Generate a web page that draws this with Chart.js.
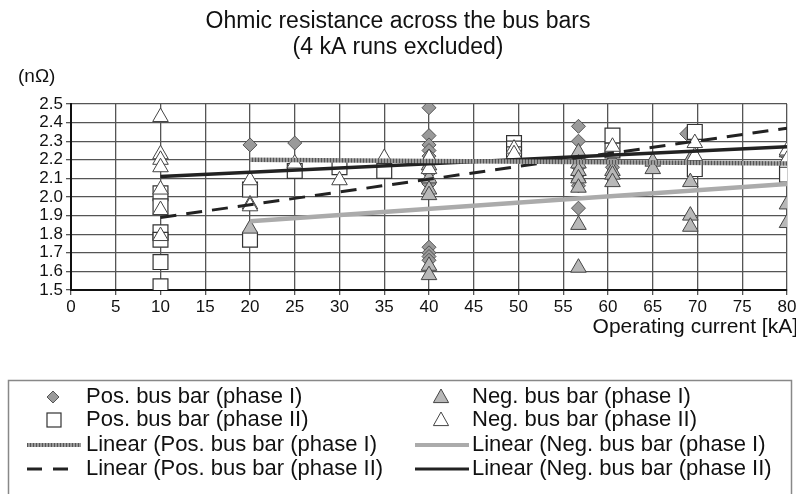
<!DOCTYPE html>
<html>
<head>
<meta charset="utf-8">
<script src="https://cdn.jsdelivr.net/npm/chart.js@4.4.1/dist/chart.umd.min.js"></script>
<style>
  html, body { margin: 0; padding: 0; background: #fff; }
  #wrap { width: 796px; height: 494px; overflow: hidden; position: relative; }
  canvas { display: block; }
</style>
</head>
<body>
<div id="wrap"><canvas id="busChart" width="830" height="494"></canvas></div>
<script>
    // Valeurs (x = courant kA, y = résistance nΩ)
    const posPhase1 = [
        [20, 2.28], [25, 2.29],
        [40, 2.48], [40, 2.33], [40, 2.28], [40, 2.25], [40, 2.22], [40, 2.20], [40, 2.13], [40, 2.07],
        [40, 1.73], [40, 1.70], [40, 1.68], [40, 1.66],
        [56.7, 2.38], [56.7, 2.30], [56.7, 2.21], [56.7, 2.16], [56.7, 2.12], [56.7, 2.09], [56.7, 2.06], [56.7, 1.94],
        [60.5, 2.19], [60.5, 2.16],
        [68.8, 2.34],
        [80, 2.22]
    ];
    const posPhase2 = [
        [10, 2.02], [10, 1.95], [10, 1.81], [10, 1.77], [10, 1.65], [10, 1.52],
        [20, 2.04], [20, 1.77],
        [25, 2.14], [30, 2.16], [35, 2.14],
        [49.5, 2.29], [49.5, 2.26], [49.5, 2.23],
        [60.5, 2.33], [60.5, 2.25],
        [69.7, 2.35], [69.7, 2.15],
        [80, 2.15], [80, 2.12]
    ];
    const negPhase1 = [
        [20, 1.96], [20, 1.83],
        [40, 2.17], [40, 2.10], [40, 2.04], [40, 2.01], [40, 1.63], [40, 1.58],
        [56.7, 2.24], [56.7, 2.18], [56.7, 2.14], [56.7, 2.10], [56.7, 2.05], [56.7, 1.85], [56.7, 1.62],
        [60.5, 2.14], [60.5, 2.12], [60.5, 2.08],
        [65, 2.19], [65, 2.15],
        [69.2, 2.20], [69.2, 2.08], [69.2, 1.90], [69.2, 1.84],
        [80, 2.24], [80, 1.96], [80, 1.86]
    ];
    const negPhase2 = [
        [10, 2.43], [10, 2.23], [10, 2.20], [10, 2.16], [10, 2.04], [10, 1.93], [10, 1.79],
        [20, 2.09], [20, 1.95],
        [25, 2.18], [30, 2.09], [35, 2.21],
        [40, 2.21], [40, 2.15],
        [49.5, 2.26], [49.5, 2.23],
        [60.5, 2.27],
        [69.7, 2.29], [69.7, 2.22],
        [80, 2.25], [80, 2.20]
    ];

    // Droites de tendance (extrémités)
    const trendXPhase1 = [20, 80];
    const trendXPhase2 = [10, 80];
    const posPhase1Trend = [2.20, 2.18];
    const posPhase2Trend = [1.89, 2.37];
    const negPhase1Trend = [1.87, 2.07];
    const negPhase2Trend = [2.11, 2.27];

    const xTicks = [0, 5, 10, 15, 20, 25, 30, 35, 40, 45, 50, 55, 60, 65, 70, 75, 80];
    const yTicks = [1.5, 1.6, 1.7, 1.8, 1.9, 2.0, 2.1, 2.2, 2.3, 2.4, 2.5];

    const legendLabels = [
        'Pos. bus bar (phase I)', 'Pos. bus bar (phase II)',
        'Linear (Pos. bus bar (phase I)', 'Linear (Pos. bus bar (phase II)',
        'Neg. bus bar (phase I)', 'Neg. bus bar (phase II)',
        'Linear (Neg. bus bar (phase I)', 'Linear (Neg. bus bar (phase II)'
    ];

    const FONT = '"Liberation Sans", Arial, sans-serif';

    function toPoints(pairs) {
        return pairs.map(p => ({ x: p[0], y: p[1] }));
    }
    function toLine(xs, ys) {
        return xs.map((x, i) => ({ x: x, y: ys[i] }));
    }

    // motif hachuré pour la tendance "Pos. phase I"
    function hatchPattern(ctx) {
        const c = document.createElement('canvas');
        c.width = 3; c.height = 3;
        const g = c.getContext('2d');
        g.fillStyle = '#9a9a9a';
        g.fillRect(0, 0, 3, 3);
        g.fillStyle = '#555';
        g.fillRect(0, 0, 1, 3);
        return ctx.createPattern(c, 'repeat');
    }

    const canvas = document.getElementById('busChart');
    const ctx = canvas.getContext('2d');
    const hatch = hatchPattern(ctx);

    // petits dessins pour la légende
    function drawDiamond(g, x, y, r) {
        g.beginPath();
        g.moveTo(x, y - r); g.lineTo(x + r, y); g.lineTo(x, y + r); g.lineTo(x - r, y);
        g.closePath();
        g.fillStyle = '#9a9a9a'; g.strokeStyle = '#555'; g.lineWidth = 1;
        g.fill(); g.stroke();
    }
    function drawSquare(g, x, y, s) {
        g.fillStyle = '#fff'; g.strokeStyle = '#333'; g.lineWidth = 1.2;
        g.fillRect(x - s, y - s, 2 * s, 2 * s);
        g.strokeRect(x - s, y - s, 2 * s, 2 * s);
    }
    function drawTriangle(g, x, y, r, fill) {
        g.beginPath();
        g.moveTo(x, y - r); g.lineTo(x + r * 0.95, y + r * 0.7); g.lineTo(x - r * 0.95, y + r * 0.7);
        g.closePath();
        g.fillStyle = fill; g.strokeStyle = '#444'; g.lineWidth = 1;
        g.fill(); g.stroke();
    }
    function drawSeg(g, x1, x2, y, color, width, dash) {
        g.save();
        g.beginPath();
        g.setLineDash(dash || []);
        g.moveTo(x1, y); g.lineTo(x2, y);
        g.strokeStyle = color; g.lineWidth = width;
        g.stroke();
        g.restore();
    }

    const textPlugin = {
        id: 'textPlugin',
        afterDraw(chart) {
            const g = chart.ctx;
            g.save();
            g.fillStyle = '#111';
            g.textBaseline = 'middle';
            // titre
            g.font = '23px ' + FONT;
            g.textAlign = 'center';
            g.fillText('Ohmic resistance across the bus bars', 398, 22);
            g.fillText('(4 kA runs excluded)', 398, 48);
            // unité axe y
            g.textAlign = 'left';
            g.font = '19px ' + FONT;
            g.fillText('(n\u03A9)', 18, 77);
            // titre axe x
            g.textAlign = 'right';
            g.font = '21px ' + FONT;
            g.fillText('Operating current [kA]', 798, 327);

            // cadre de la légende
            g.strokeStyle = '#888';
            g.lineWidth = 1.5;
            g.strokeRect(8.5, 380.5, 783, 130);

            g.font = '22px ' + FONT;
            g.textAlign = 'left';
            const rows = [397, 420, 445, 469];
            const leftText = 86, rightText = 472;
            for (let i = 0; i < 4; i++) {
                g.fillStyle = '#111';
                g.fillText(legendLabels[i], leftText, rows[i]);
                g.fillText(legendLabels[i + 4], rightText, rows[i]);
            }
            drawDiamond(g, 53, rows[0], 6);
            drawSquare(g, 54, rows[1], 7);
            drawSeg(g, 27, 81, rows[2], hatch, 4);
            drawSeg(g, 27, 78, rows[3], '#222', 3, [15, 11]);
            drawTriangle(g, 441, rows[0], 8, '#b8b8b8');
            drawTriangle(g, 441, rows[1], 8, '#fff');
            drawSeg(g, 415, 469, rows[2], '#ababab', 4);
            drawSeg(g, 415, 469, rows[3], '#222', 3);
            g.restore();
        }
    };

    const busChart = new Chart(ctx, {
        type: 'scatter',
        data: {
            datasets: [
                {
                    label: legendLabels[2],
                    data: toLine(trendXPhase1, posPhase1Trend),
                    showLine: true, borderColor: hatch, borderWidth: 4.5, pointRadius: 0
                },
                {
                    label: legendLabels[3],
                    data: toLine(trendXPhase2, posPhase2Trend),
                    showLine: true, borderColor: '#222', borderWidth: 3, borderDash: [16, 10], pointRadius: 0
                },
                {
                    label: legendLabels[6],
                    data: toLine(trendXPhase1, negPhase1Trend),
                    showLine: true, borderColor: '#ababab', borderWidth: 4.5, pointRadius: 0
                },
                {
                    label: legendLabels[7],
                    data: toLine(trendXPhase2, negPhase2Trend),
                    showLine: true, borderColor: '#222', borderWidth: 3.5, pointRadius: 0
                },
                {
                    label: legendLabels[5],
                    data: toPoints(negPhase2),
                    pointStyle: 'triangle', pointRadius: 9,
                    backgroundColor: '#fff', borderColor: '#444', borderWidth: 1
                },
                {
                    label: legendLabels[4],
                    data: toPoints(negPhase1),
                    pointStyle: 'triangle', pointRadius: 9,
                    backgroundColor: '#b8b8b8', borderColor: '#444', borderWidth: 1
                },
                {
                    label: legendLabels[1],
                    data: toPoints(posPhase2),
                    pointStyle: 'rect', pointRadius: 10.5,
                    backgroundColor: '#fff', borderColor: '#333', borderWidth: 1.2
                },
                {
                    label: legendLabels[0],
                    data: toPoints(posPhase1),
                    pointStyle: 'rectRot', pointRadius: 7,
                    backgroundColor: '#9a9a9a', borderColor: '#555', borderWidth: 1
                }
            ]
        },
        options: {
            responsive: false,
            animation: false,
            layout: { padding: { left: 0, top: 104, right: 43, bottom: 180 } },
            plugins: {
                legend: { display: false },
                title: { display: false },
                tooltip: { enabled: false }
            },
            scales: {
                x: {
                    type: 'linear',
                    min: 0, max: 80,
                    afterFit: s => { s.height = 24; },
                    afterBuildTicks: s => { s.ticks = xTicks.map(v => ({ value: v })); },
                    ticks: {
                        color: '#111', padding: 2,
                        font: { family: FONT, size: 17 },
                        maxRotation: 0, autoSkip: false
                    },
                    grid: { color: '#555', lineWidth: 1.3, tickLength: 5 },
                    border: { color: '#111', width: 2 }
                },
                y: {
                    min: 1.5, max: 2.5,
                    afterFit: s => { s.width = 71; },
                    afterBuildTicks: s => { s.ticks = yTicks.map(v => ({ value: v })); },
                    ticks: {
                        color: '#111', padding: 3, autoSkip: false,
                        font: { family: FONT, size: 17 },
                        callback: v => Number(v).toFixed(1)
                    },
                    grid: { color: '#555', lineWidth: 1.3, tickLength: 5 },
                    border: { color: '#111', width: 2 }
                }
            }
        },
        plugins: [textPlugin]
    });
</script>
</body>
</html>
